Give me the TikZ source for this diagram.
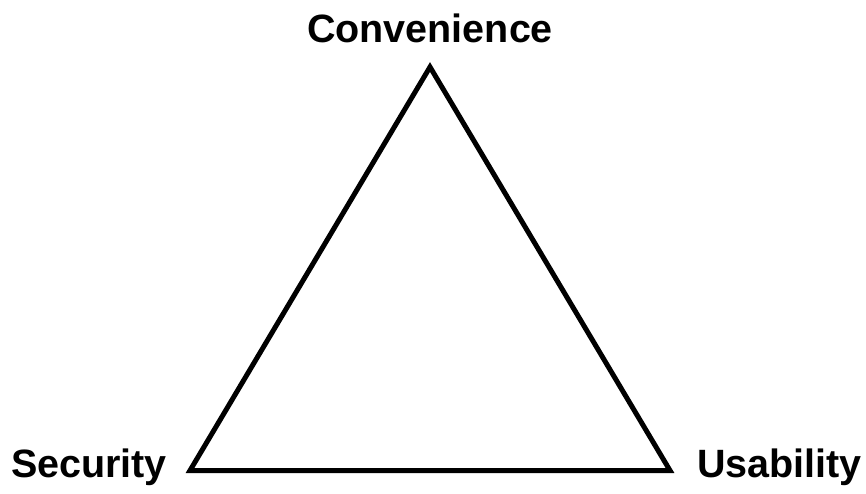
\documentclass[tikz,border=0pt]{standalone}
\usepackage{fontspec}
\setmainfont{Liberation Sans}
\begin{document}
\begin{tikzpicture}[x = 0.5pt, y = 0.5pt, every node/.style = {font = \fontsize{19.75}{24}\bfseries\selectfont}]
\useasboundingbox (0,0) rectangle (866,493);
\coordinate (top) at (430,426);
\coordinate (left) at (190,22.5);
\coordinate (right) at (670,22.5);
\draw[line width = 2.5pt, line join = miter] (top) -- (right) -- (left) -- cycle;
\node[anchor = base] at (430,450) (conv) {Convenience};
\node[anchor = base] at (89,16) (sec) {Security};
\node[anchor = base] at (779.5,16) (usab) {Usability};
\end{tikzpicture}
\end{document}
